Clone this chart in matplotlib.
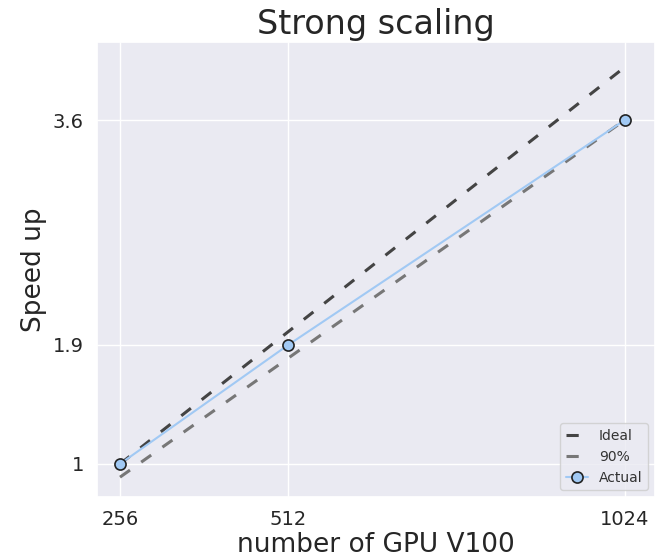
import matplotlib
matplotlib.use("Agg")
import matplotlib.pyplot as plt
import seaborn as sns
import numpy as np

sns.set_theme(style="darkgrid")
plt.rcParams['font.family'] = ['DejaVu Sans']

gpus = [256, 512, 1024]
ideal = [1, 2, 4]
ninety = [0.9, 1.8, 3.6]
actual = [1, 1.9, 3.6]
ytick_labels = ["1", "1.9", "3.6"]

fig = plt.figure(figsize=(6.59, 5.57), dpi=100)
ax = fig.add_axes([97/659, 60/557, 558/659, 455/557])
ax.plot(gpus, ideal, '--', color='#444444', lw=2.2, dashes=(4, 4.5), label='Ideal')
ax.plot(gpus, ninety, '--', color='#777777', lw=2.2, dashes=(4, 4.5), label='90%')
ax.plot(gpus, actual, '-o', color='#a1c9f4', lw=1.5, markersize=8,
        markerfacecolor='#a1c9f4', markeredgecolor='#222222', markeredgewidth=1.2,
        label='Actual')
ax.set_xticks(gpus)
ax.set_xticklabels([str(g) for g in gpus])
ax.set_yticks(actual)
ax.set_yticklabels(ytick_labels)
ax.set_xlim(221, 1070)
ax.set_ylim(0.75, 4.19)
ax.tick_params(labelsize=14)
ax.set_xlabel('number of GPU V100', fontsize=19, labelpad=2)
ax.set_ylabel('Speed up', fontsize=19)
ax.set_title('Strong scaling', fontsize=24)
leg = ax.legend(loc='lower right', fontsize=10, handlelength=1.6)
for t in leg.get_texts():
    t.set_color('#333333')
fig.savefig('out.png', dpi=100)
